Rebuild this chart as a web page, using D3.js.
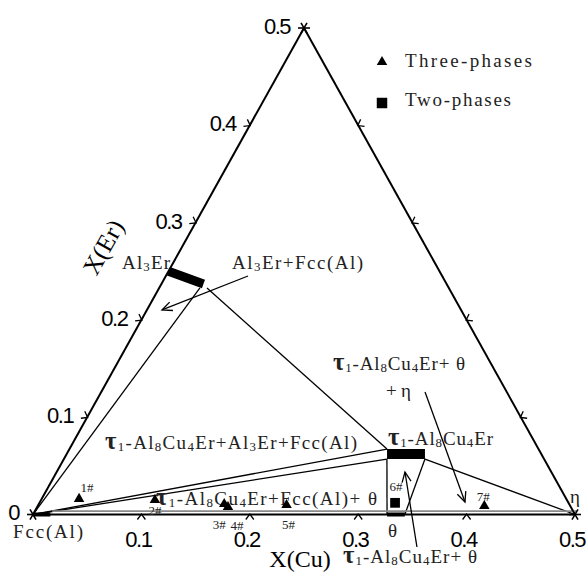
<!DOCTYPE html>
<html><head><meta charset="utf-8">
<script src="https://cdn.jsdelivr.net/npm/d3@7/dist/d3.min.js"></script>
<style>body{margin:0;background:#fff} svg{display:block}</style>
</head><body>
<svg id="chart" width="586" height="573"></svg>
<script>
// ---------------- data (mole fractions) ----------------
const edgeTicks = [0.1, 0.2, 0.3, 0.4];
const leftTickValues = [0, 0.1, 0.2, 0.3, 0.4, 0.5];
const leftTickLabels = ["0", "0.1", "0.2", "0.3", "0.4", "0.5"];
const bottomTickValues = [0.1, 0.2, 0.3, 0.4, 0.5];
const bottomTickLabels = ["0.1", "0.2", "0.3", "0.4", "0.5"];

const threePhaseIds = ["1#", "2#", "3#", "4#", "5#", "7#"];
const threePhaseCu  = [0.0345, 0.105, 0.171, 0.176, 0.229, 0.412];
const threePhaseEr  = [0.016, 0.0149, 0.0108, 0.0077, 0.0098, 0.0087];
const twoPhaseIds = ["6#"];
const twoPhaseCu  = [0.328];
const twoPhaseEr  = [0.012];

// single-phase ranges [cu, er] -> [cu, er]
const phaseNames = ["Al3Er", "τ1-Al8Cu4Er", "θ", "Fcc(Al)"];
const phaseFrom  = [[0, 0.25], [0.2955, 0.0622], [0.3266, 0], [0, 0]];
const phaseTo    = [[0.0388, 0.2369], [0.3305, 0.0622], [0.343, 0], [0.016, 0]];

// tie lines bounding the phase regions
const tieFrom = [[0, 0], [0.0441, 0.2328], [0, 0], [0, 0], [0.298, 0.057], [0.3331, 0.057], [0.3331, 0.057], [0.016, 0.0035]];
const tieTo   = [[0.0376, 0.2328], [0.2929, 0.0673], [0.2929, 0.0673], [0.298, 0.057], [0.3266, 0], [0.343, 0], [0.5, 0], [0.5, 0.0035]];

// annotation arrows (tail -> head)
const arrowFrom = [[0.0758, 0.2451], [0.2987, 0.1259], [0.3709, -0.0334]];
const arrowTo   = [[0.0139, 0.2102], [0.3921, 0.0128], [0.3213, 0.0437]];

const legendLabels = ["Three-phases", "Two-phases"];
const regionLabels = ["Al3Er", "Al3Er+Fcc(Al)", "τ1-Al8Cu4Er+Al3Er+Fcc(Al)", "τ1-Al8Cu4Er",
  "τ1-Al8Cu4Er+ θ", "+ η", "τ1-Al8Cu4Er+Fcc(Al)+ θ", "τ1-Al8Cu4Er+ θ", "θ", "η", "Fcc(Al)"];

// ---------------- layout ----------------
const svg = d3.select("#chart");
const x0 = 33;
const sCu = d3.scaleLinear().domain([0, 0.5]).range([0, 542]);
const sErX = d3.scaleLinear().domain([0, 0.5]).range([0, 271]);
const sErY = d3.scaleLinear().domain([0, 0.5]).range([514.5, 28]);
const proj = (cu, er) => [x0 + sCu(cu) + sErX(er), sErY(er)];
const line = d3.line();

const L = proj(0, 0), R = proj(0.5, 0), T = proj(0, 0.5);
const unit = (a, b) => { const dx = b[0]-a[0], dy = b[1]-a[1], l = Math.hypot(dx, dy); return [dx/l, dy/l]; };

// triangle edges
svg.append("path").attr("d", line([L, R])).attr("stroke", "#000").attr("stroke-width", 2).attr("fill", "none");
svg.append("path").attr("d", line([L, T])).attr("stroke", "#000").attr("stroke-width", 2).attr("fill", "none");
svg.append("path").attr("d", line([R, T])).attr("stroke", "#000").attr("stroke-width", 2).attr("fill", "none");

// tie lines
const tieColors = tieFrom.map((d, i) => i === tieFrom.length - 1 ? "#8a8a8a" : "#000");
svg.append("g").selectAll("path").data(tieFrom).join("path")
  .attr("d", (d, i) => line([proj(...d), proj(...tieTo[i])]))
  .attr("stroke", (d, i) => tieColors[i]).attr("stroke-width", (d, i) => i === tieFrom.length - 1 ? 1.6 : 1.3)
  .attr("fill", "none");

// single-phase bars
const barWidths = [9, 10, 4, 4];
svg.append("g").selectAll("path").data(phaseFrom).join("path")
  .attr("d", (d, i) => line([proj(...d), proj(...phaseTo[i])]))
  .attr("stroke", "#000").attr("stroke-width", (d, i) => barWidths[i]).attr("stroke-linecap", "butt");

// tick chevrons
function chevron(p, n, t) {
  const a = [p[0] + n[0]*0.5, p[1] + n[1]*0.5];
  const l1 = [p[0] - n[0]*5 + t[0]*4, p[1] - n[1]*5 + t[1]*4];
  const l2 = [p[0] - n[0]*5 - t[0]*4, p[1] - n[1]*5 - t[1]*4];
  return line([l1, a, l2]);
}
const tB = unit(L, R), nB = [tB[1], -tB[0]];
const tL = unit(L, T), nL = [-tL[1], tL[0]];
const tR = unit(R, T), nR = [tR[1], -tR[0]];
const tg = svg.append("g").attr("stroke", "#000").attr("stroke-width", 1.3).attr("fill", "none");
tg.selectAll(".tb").data(edgeTicks).join("path").attr("d", v => chevron(proj(v, 0), nB, tB));
tg.selectAll(".tl").data(edgeTicks).join("path").attr("d", v => chevron(proj(0, v), nL, tL));
tg.selectAll(".tr").data(edgeTicks).join("path").attr("d", v => chevron(proj(0.5 - v, v), nR, tR));

// vertex asterisks
[L, R, T].forEach(p => {
  [0, 60, 120].forEach(a => {
    const r = 6, c = Math.cos(a*Math.PI/180)*r, s = Math.sin(a*Math.PI/180)*r;
    tg.append("path").attr("d", line([[p[0]-c, p[1]-s], [p[0]+c, p[1]+s]])).attr("stroke-width", 1.6);
  });
});

// tick labels
const numFont = "'Liberation Sans', Arial, sans-serif";
svg.append("g").selectAll("text").data(leftTickValues).join("text")
  .attr("x", v => proj(0, v)[0] - 14).attr("y", v => proj(0, v)[1] - 2)
  .attr("dy", "0.36em").attr("text-anchor", "end")
  .attr("font-family", numFont).attr("font-size", 22).attr("letter-spacing", -1.5)
  .text((v, i) => leftTickLabels[i]);
svg.append("g").selectAll("text").data(bottomTickValues).join("text")
  .attr("x", v => proj(v, 0)[0] - 3).attr("y", 547)
  .attr("text-anchor", "middle")
  .attr("font-family", numFont).attr("font-size", 22).attr("letter-spacing", -1.5)
  .text((v, i) => bottomTickLabels[i]);

// axis titles
const serif = "'Liberation Serif', 'Times New Roman', serif";
svg.append("text").attr("x", 300).attr("y", 567).attr("text-anchor", "middle")
  .attr("font-family", serif).attr("font-size", 24).text("X(Cu)");
const angEr = Math.atan2(T[1]-L[1], T[0]-L[0]) * 180 / Math.PI;
svg.append("text").attr("transform", `translate(103,247) rotate(${angEr})`)
  .attr("text-anchor", "middle").attr("dy", "0.35em")
  .attr("font-family", serif).attr("font-size", 25).text("X(Er)");

// rich text helper (subscript digits, large tau)
function addRich(sel, str) {
  const parts = [];
  for (let i = 0; i < str.length; i++) {
    const c = str[i], p = str[i-1];
    let type = "n";
    if (c === "τ") type = "tau";
    else if (/\d/.test(c) && p && /[A-Za-zτ]/.test(p)) type = "sub";
    if (parts.length && type === "n" && parts[parts.length-1].type === "n") parts[parts.length-1].t += c;
    else parts.push({t: c, type});
  }
  let shifted = false;
  parts.forEach(pt => {
    const ts = sel.append("tspan").text(pt.t);
    if (pt.type === "sub") { ts.attr("font-size", "0.68em"); if (!shifted) { ts.attr("dy", 2); shifted = true; } }
    else if (shifted) { ts.attr("dy", -2); shifted = false; }
    if (pt.type === "tau") ts.attr("font-size", "1.3em").attr("font-weight", "bold");
  });
}

// region labels: [x, baseline, width]
const labelPos = [[122, 269, 48], [232, 269, 131], [105, 449, 252], [388, 445, 105],
  [333, 370, 132], [386, 397, 25], [156, 505, 221], [343, 563, 134], [388, 537, 0], [570, 503, 0], [13, 538, 70]];
const lg = svg.append("g").attr("font-family", serif).attr("font-size", 19).attr("fill", "#222");
regionLabels.forEach((s, i) => {
  const p = labelPos[i];
  const t = lg.append("text").attr("x", p[0]).attr("y", p[1]);
  if (p[2] > 0) t.attr("textLength", p[2]).attr("lengthAdjust", "spacing");
  addRich(t, s);
});

// arrows
const ag = svg.append("g").attr("stroke", "#000").attr("stroke-width", 1.3).attr("fill", "none");
arrowFrom.forEach((d, i) => {
  const a = proj(...d), b = proj(...arrowTo[i]);
  ag.append("path").attr("d", line([a, b]));
  const u = unit(a, b), len = 10, w = 4.5;
  const h1 = [b[0] - u[0]*len - u[1]*w, b[1] - u[1]*len + u[0]*w];
  const h2 = [b[0] - u[0]*len + u[1]*w, b[1] - u[1]*len - u[0]*w];
  ag.append("path").attr("d", line([h1, b, h2]));
});

// sample points
const tri = d3.symbol().type(d3.symbolTriangle).size(48);
const sq = d3.symbol().type(d3.symbolSquare).size(95);
svg.append("g").selectAll("path").data(threePhaseCu).join("path")
  .attr("transform", (d, i) => { const p = proj(d, threePhaseEr[i]); return `translate(${p[0]},${p[1]})`; })
  .attr("d", tri).attr("fill", "#000");
svg.append("g").selectAll("path").data(twoPhaseCu).join("path")
  .attr("transform", (d, i) => { const p = proj(d, twoPhaseEr[i]); return `translate(${p[0]},${p[1]})`; })
  .attr("d", sq).attr("fill", "#000");

// point labels offsets
const threeOff = [[8, -11], [0, 10], [-5, 20], [9, 18], [2, 19], [-1, -10]];
const twoOff = [[1, -16]];
const pl = svg.append("g").attr("font-family", serif).attr("font-size", 13).attr("text-anchor", "middle").attr("fill", "#222");
threePhaseIds.forEach((id, i) => {
  const p = proj(threePhaseCu[i], threePhaseEr[i]);
  pl.append("text").attr("x", p[0] + threeOff[i][0]).attr("y", p[1] + threeOff[i][1]).attr("dy", "0.35em").text(id);
});
twoPhaseIds.forEach((id, i) => {
  const p = proj(twoPhaseCu[i], twoPhaseEr[i]);
  pl.append("text").attr("x", p[0] + twoOff[i][0]).attr("y", p[1] + twoOff[i][1]).attr("dy", "0.35em").text(id);
});

// legend
const leg = svg.append("g");
leg.append("path").attr("transform", "translate(382,62)").attr("d", tri).attr("fill", "#000");
leg.append("path").attr("transform", "translate(382,103)").attr("d", d3.symbol().type(d3.symbolSquare).size(110)).attr("fill", "#000");
leg.append("text").attr("x", 405).attr("y", 67).attr("font-family", serif).attr("font-size", 19).attr("fill", "#222")
  .attr("textLength", 127).attr("lengthAdjust", "spacing").text(legendLabels[0]);
leg.append("text").attr("x", 405).attr("y", 106).attr("font-family", serif).attr("font-size", 19).attr("fill", "#222")
  .attr("textLength", 106).attr("lengthAdjust", "spacing").text(legendLabels[1]);
</script>
</body></html>
